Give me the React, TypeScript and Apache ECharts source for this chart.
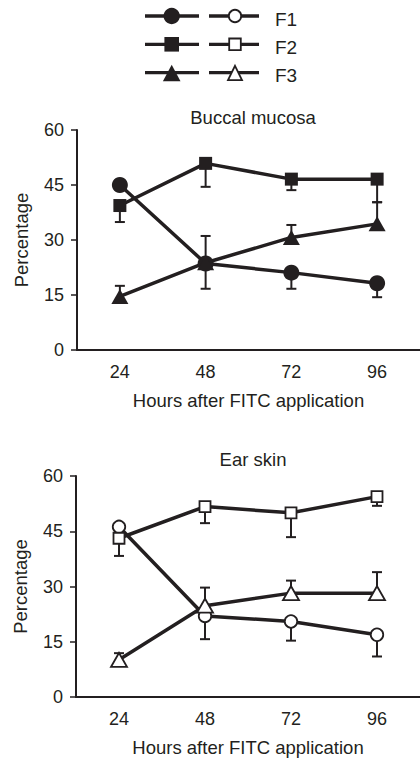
import React, { useEffect, useRef } from "react";
import * as echarts from "echarts";

const hours = ["24", "48", "72", "96"];
const seriesNames = ["F1", "F2", "F3"];

// Buccal mucosa (filled markers): mean values and error-bar end values
const buccalF1 = [45, 23.6, 21.1, 18.2];
const buccalF1Err = [null, 16.7, 16.7, 14.4];
const buccalF2 = [39.4, 50.9, 46.6, 46.6];
const buccalF2Err = [34.9, 44.5, 43.6, 40.3];
const buccalF3 = [14.6, 23.8, 30.7, 34.4];
const buccalF3Err = [17.5, 31.1, 34.1, 40.3];

// Ear skin (open markers)
const earF1 = [46.2, 22.0, 20.5, 16.9];
const earF1Err = [null, 15.7, 15.3, 11.0];
const earF2 = [43.1, 51.7, 50.0, 54.4];
const earF2Err = [38.3, 47.2, 43.4, 51.9];
const earF3 = [10.1, 24.8, 28.2, 28.2];
const earF3Err = [11.9, 29.7, 31.6, 33.9];

const INK = "#231f20";
const FONT = "'Liberation Sans', Arial, Helvetica, sans-serif";

function errData(vals: number[], ends: (number | null)[]) {
  const out: any[] = [];
  vals.forEach((v, i) => {
    const e = ends[i];
    if (e !== null && e !== undefined) out.push([i, v, e]);
  });
  return out;
}

const renderErr = (params: any, api: any) => {
  const p = api.coord([api.value(0), api.value(1)]);
  const e = api.coord([api.value(0), api.value(2)]);
  const hw = 5;
  return {
    type: "group",
    children: [
      { type: "line", shape: { x1: p[0], y1: p[1], x2: e[0], y2: e[1] }, style: { stroke: INK, lineWidth: 2 } },
      { type: "line", shape: { x1: e[0] - hw, y1: e[1], x2: e[0] + hw, y2: e[1] }, style: { stroke: INK, lineWidth: 2 } },
    ],
  };
};

export default function App() {
  const ref = useRef<HTMLDivElement>(null);
  useEffect(() => {
    document.body.style.margin = "0";
    if (!ref.current) return;
    const chart = echarts.init(ref.current, null, { renderer: "svg" });

    const xAxisBase = (gi: number) => ({
      type: "category",
      gridIndex: gi,
      data: hours,
      boundaryGap: true,
      axisLine: { lineStyle: { color: INK, width: 2 } },
      axisTick: { alignWithLabel: true, length: 5, lineStyle: { color: INK, width: 1.5 } },
      axisLabel: { color: INK, fontSize: 18, fontFamily: FONT, margin: 13 },
      name: "Hours after FITC application",
      nameLocation: "middle",
      nameGap: 41,
      nameTextStyle: { color: INK, fontSize: 18.5, fontFamily: FONT },
      splitLine: { show: false },
    });
    const yAxisBase = (gi: number) => ({
      type: "value",
      gridIndex: gi,
      min: 0,
      max: 60,
      interval: 15,
      axisLine: { show: true, lineStyle: { color: INK, width: 2 } },
      axisTick: { show: true, length: 6, lineStyle: { color: INK, width: 1.5 } },
      axisLabel: { color: INK, fontSize: 18, fontFamily: FONT, margin: 13 },
      splitLine: { show: false },
      name: "Percentage",
      nameLocation: "middle",
      nameGap: 46,
      nameTextStyle: { color: INK, fontSize: 18.5, fontFamily: FONT },
    });

    const lineSeries = (name: string, data: number[], gi: number, symbol: string, size: any, filled: boolean) => ({
      type: "line",
      name,
      xAxisIndex: gi,
      yAxisIndex: gi,
      data,
      symbol,
      symbolSize: size,
      showAllSymbol: true,
      lineStyle: { color: INK, width: 3.5 },
      itemStyle: filled
        ? { color: INK, borderColor: INK, borderWidth: 0 }
        : { color: "#ffffff", borderColor: INK, borderWidth: 1.8 },
      z: 3,
    });
    const errSeries = (name: string, vals: number[], ends: (number | null)[], gi: number) => ({
      type: "custom",
      name: name + " err",
      xAxisIndex: gi,
      yAxisIndex: gi,
      data: errData(vals, ends),
      encode: { x: 0, y: [1, 2] },
      renderItem: renderErr,
      z: 2,
    });

    // legend drawn as graphic
    const rows = [16, 44.3, 72.7];
    const legendEls: any[] = [];
    rows.forEach((y, i) => {
      legendEls.push({ type: "line", shape: { x1: 145, y1: y, x2: 199, y2: y }, style: { stroke: INK, lineWidth: 3.3 } });
      legendEls.push({ type: "line", shape: { x1: 209, y1: y, x2: 259, y2: y }, style: { stroke: INK, lineWidth: 3.3 } });
      const fx = 171.7;
      const ox = 235;
      if (i === 0) {
        legendEls.push({ type: "circle", shape: { cx: fx, cy: y, r: 8.2 }, style: { fill: INK } });
        legendEls.push({ type: "circle", shape: { cx: ox, cy: y, r: 6.2 }, style: { fill: "#fff", stroke: INK, lineWidth: 1.8 } });
      } else if (i === 1) {
        legendEls.push({ type: "rect", shape: { x: fx - 7.3, y: y - 7.3, width: 14.6, height: 14.6 }, style: { fill: INK } });
        legendEls.push({ type: "rect", shape: { x: ox - 5.8, y: y - 5.8, width: 11.6, height: 11.6 }, style: { fill: "#fff", stroke: INK, lineWidth: 1.8 } });
      } else {
        legendEls.push({ type: "polygon", shape: { points: [[fx, y - 8], [fx + 8.8, y + 8.6], [fx - 8.8, y + 8.6]] }, style: { fill: INK } });
        legendEls.push({ type: "polygon", shape: { points: [[ox, y - 6.8], [ox + 7, y + 7.4], [ox - 7, y + 7.4]] }, style: { fill: "#fff", stroke: INK, lineWidth: 1.8 } });
      }
      legendEls.push({
        type: "text",
        x: 275,
        y: y + 3,
        style: { text: seriesNames[i], fill: INK, fontSize: 19, fontFamily: FONT, verticalAlign: "middle", align: "left" },
      });
    });

    chart.setOption({
      animation: false,
      backgroundColor: "#ffffff",
      title: [
        { text: "Buccal mucosa", left: 248, top: 103, textAlign: "center", textStyle: { color: INK, fontSize: 18.5, fontWeight: "normal", fontFamily: FONT } },
        { text: "Ear skin", left: 248, top: 445, textAlign: "center", textStyle: { color: INK, fontSize: 18.5, fontWeight: "normal", fontFamily: FONT } },
      ],
      grid: [
        { left: 77, right: -5, top: 130, height: 220 },
        { left: 76, right: -5, top: 476, height: 221 },
      ],
      xAxis: [xAxisBase(0), xAxisBase(1)],
      yAxis: [yAxisBase(0), yAxisBase(1)],
      graphic: legendEls,
      series: [
        errSeries("B F1", buccalF1, buccalF1Err, 0),
        errSeries("B F2", buccalF2, buccalF2Err, 0),
        errSeries("B F3", buccalF3, buccalF3Err, 0),
        lineSeries("B F1", buccalF1, 0, "circle", 16, true),
        lineSeries("B F2", buccalF2, 0, "rect", 13, true),
        lineSeries("B F3", buccalF3, 0, "triangle", [17, 15], true),
        errSeries("E F1", earF1, earF1Err, 1),
        errSeries("E F2", earF2, earF2Err, 1),
        errSeries("E F3", earF3, earF3Err, 1),
        lineSeries("E F1", earF1, 1, "circle", 12.5, false),
        lineSeries("E F2", earF2, 1, "rect", 11, false),
        lineSeries("E F3", earF3, 1, "triangle", [16, 14], false),
      ],
    });
    return () => chart.dispose();
  }, []);
  return <div ref={ref} style={{ width: 420, height: 758 }} />;
}
